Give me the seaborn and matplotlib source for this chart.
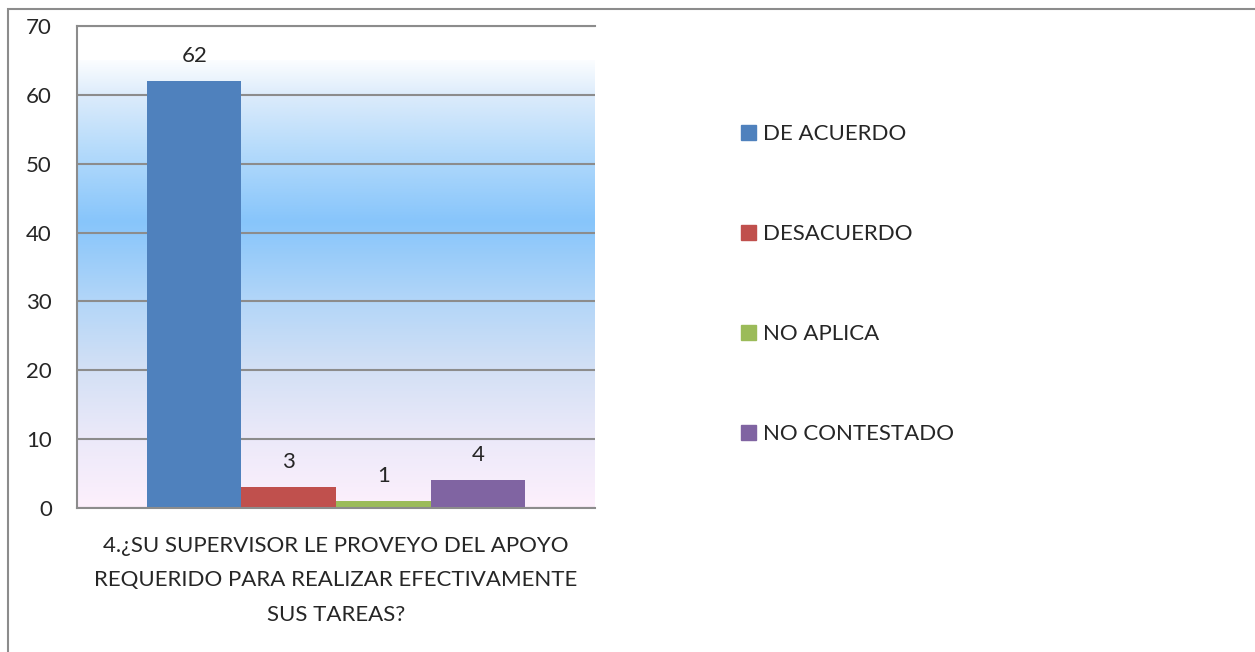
import numpy as np
import pandas as pd
import seaborn as sns
import matplotlib.pyplot as plt
from matplotlib.colors import LinearSegmentedColormap
from matplotlib.patches import Rectangle

# data
pregunta = "4.¿SU SUPERVISOR LE PROVEYO DEL APOYO\nREQUERIDO PARA REALIZAR EFECTIVAMENTE\nSUS TAREAS?"
respuestas = ["DE ACUERDO", "DESACUERDO", "NO APLICA", "NO CONTESTADO"]
valores = [62, 3, 1, 4]
colores = ["#4f81bd", "#c0504d", "#9bbb59", "#8064a2"]
y_ticks = [0, 10, 20, 30, 40, 50, 60, 70]

df = pd.DataFrame({"pregunta": [pregunta] * len(respuestas),
                   "respuesta": respuestas,
                   "valor": valores})

sns.set_style("white")
plt.rcParams["font.family"] = ["Lato", "DejaVu Sans"]
grey = "#8c8c8c"
fs = 16

fig = plt.figure(figsize=(12.55, 6.52), dpi=100)
ax = fig.add_axes([77 / 1255, 1 - 508 / 652, (595 - 77) / 1255, (508 - 26) / 652])

# gradient fill of the plot area (Excel style)
grad = LinearSegmentedColormap.from_list("fondo", [
    (0.00, "#fdf0fc"),
    (0.16, "#ebe9f9"),
    (0.31, "#d3e0f5"),
    (0.46, "#b3d6f8"),
    (0.64, "#87c5fb"),
    (0.80, "#b5dbfb"),
    (0.92, "#dbebfb"),
    (1.00, "#fbfdff"),
])
ax.imshow(np.linspace(0, 1, 256).reshape(-1, 1), cmap=grad, origin="lower",
          aspect="auto", extent=(-0.5, 0.5, 0, 65), zorder=0.1)

sns.barplot(data=df, x="pregunta", y="valor", hue="respuesta",
            palette=colores, saturation=1, width=0.73, linewidth=0, ax=ax)

for c in ax.containers:
    ax.bar_label(c, padding=11, fontsize=fs)

ax.set_xlim(-0.5, 0.5)
ax.set_ylim(0, 70)
ax.set_yticks(y_ticks)
ax.set_axisbelow(True)
ax.yaxis.grid(True, color=grey, linewidth=1.5)
ax.set_xlabel("")
ax.set_ylabel("")

for s in ["left", "bottom", "top"]:
    ax.spines[s].set_color(grey)
    ax.spines[s].set_linewidth(1.5)
ax.spines["right"].set_visible(False)

ax.tick_params(axis="y", length=5, width=1.5, color=grey, pad=13, labelsize=fs)
ax.tick_params(axis="x", which="major", length=0, pad=20, labelsize=fs)
ax.set_xticks([-0.5, 0.5], minor=True)
ax.tick_params(axis="x", which="minor", length=5, width=1.5, color=grey)
for t in ax.get_xticklabels():
    t.set_linespacing(1.9)

ax.get_legend().remove()
handles = [Rectangle((0, 0), 1, 1, color=c) for c in colores]
fig.legend(handles, respuestas, loc="upper left", bbox_to_anchor=(721 / 1255, 1 - 104 / 652),
           frameon=False, fontsize=fs, handlelength=0.68, handleheight=0.68,
           handletextpad=0.3, labelspacing=3.6)

# outer chart frame
fig.patches.append(Rectangle((8 / 1255, -0.02), 1.1, 1 - 9 / 652 + 0.02,
                             transform=fig.transFigure, fill=False,
                             edgecolor=grey, linewidth=1.5))

fig.savefig("out.png", dpi=100)
